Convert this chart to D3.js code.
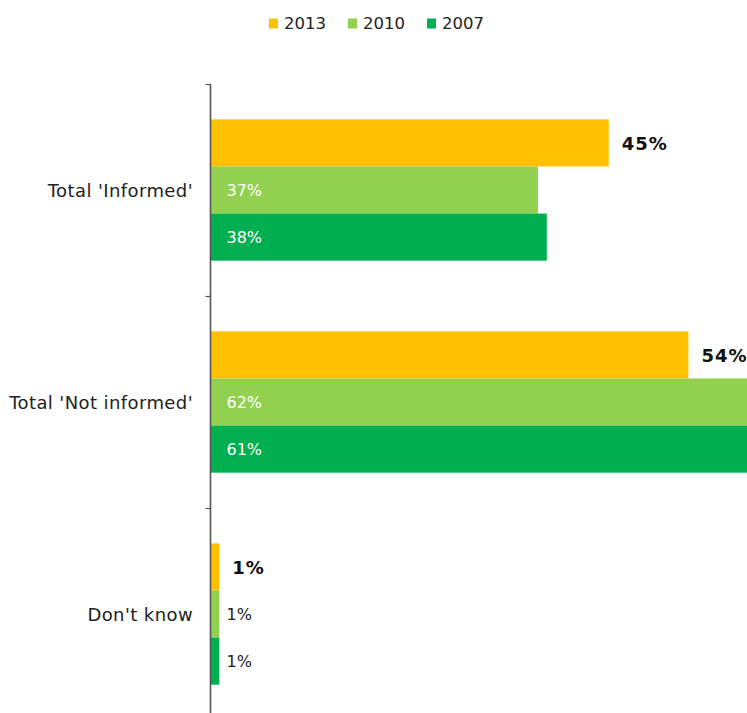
<!DOCTYPE html>
<html>
<head>
<meta charset="utf-8">
<script src="https://cdn.jsdelivr.net/npm/d3@7"></script>
<style>
  html, body { margin: 0; padding: 0; background: #fff; overflow: hidden; }
  svg { display: block; }
  text { font-family: "DejaVu Sans", Verdana, sans-serif; }
</style>
</head>
<body>
<svg id="chart" width="747" height="713"></svg>
<script>
// ---- data ----
const categories = ["Total 'Informed'", "Total 'Not informed'", "Don't know"];
const series = ["2013", "2010", "2007"];
const values2013 = [45, 54, 1];
const values2010 = [37, 62, 1];
const values2007 = [38, 61, 1];
const labels2013 = ["45%", "54%", "1%"];
const labels2010 = ["37%", "62%", "1%"];
const labels2007 = ["38%", "61%", "1%"];
const colors = ["#FFC000", "#92D050", "#00B050"];

const valuesBySeries = [values2013, values2010, values2007];
const labelsBySeries = [labels2013, labels2010, labels2007];

const W = 747, H = 713;
const svg = d3.select("#chart");

const axisX = 210.5;
const x = d3.scaleLinear().domain([0, 100]).range([axisX, axisX + 885]);
const y0 = d3.scaleBand().domain(categories).range([84, 720]).paddingInner(0).paddingOuter(0);
const y1 = d3.scaleBand().domain(series).range([0, y0.bandwidth()]).paddingInner(0).paddingOuter(0.75);
const color = d3.scaleOrdinal().domain(series).range(colors);

// data rows
const rows = [];
categories.forEach((c, ci) => {
  series.forEach((s, si) => {
    rows.push({ cat: c, ser: s, si: si, v: valuesBySeries[si][ci], label: labelsBySeries[si][ci] });
  });
});

// bars
const g = svg.append("g");
g.selectAll("rect.bar").data(rows).enter().append("rect")
  .attr("class", "bar")
  .attr("x", x(0))
  .attr("y", d => y0(d.cat) + y1(d.ser))
  .attr("width", d => x(d.v) - x(0))
  .attr("height", y1.bandwidth())
  .attr("fill", d => color(d.ser));

// value labels
rows.forEach(d => {
  const cy = y0(d.cat) + y1(d.ser) + y1.bandwidth() / 2;
  if (d.si === 0) {
    g.append("text")
      .attr("x", x(d.v) + 13)
      .attr("y", cy + 0.5)
      .attr("dy", "0.36em")
      .attr("font-size", 18)
      .attr("font-weight", "bold")
      .attr("letter-spacing", 1)
      .attr("fill", "#111")
      .text(d.label);
  } else {
    const inside = (x(d.v) - x(0)) > 50;
    g.append("text")
      .attr("x", x(0) + 16)
      .attr("y", cy)
      .attr("dy", "0.36em")
      .attr("font-size", 16)
      .attr("fill", inside ? "#ffffff" : "#222")
      .text(d.label);
  }
});

// axis
const axisG = svg.append("g");
axisG.append("line")
  .attr("x1", axisX).attr("x2", axisX)
  .attr("y1", y0.range()[0]).attr("y2", H)
  .attr("stroke", "#555").attr("stroke-width", 1.6);
axisG.selectAll("line.tick").data(categories).enter().append("line")
  .attr("class", "tick")
  .attr("x1", axisX - 5).attr("x2", axisX)
  .attr("y1", d => y0(d) + 0.5).attr("y2", d => y0(d) + 0.5)
  .attr("stroke", "#555").attr("stroke-width", 1.2);
axisG.selectAll("text.cat").data(categories).enter().append("text")
  .attr("class", "cat")
  .attr("x", 193)
  .attr("y", d => y0(d) + y0.bandwidth() / 2 + 0.5)
  .attr("dy", "0.36em")
  .attr("text-anchor", "end")
  .attr("font-size", 18)
  .attr("letter-spacing", 0.4)
  .attr("fill", "#222")
  .text(d => d);

// legend
const legend = svg.append("g");
let lx = 269;
series.forEach((s, i) => {
  legend.append("rect")
    .attr("x", lx).attr("y", 18.5)
    .attr("width", 9).attr("height", 10)
    .attr("fill", color(s));
  const t = legend.append("text")
    .attr("x", lx + 15).attr("y", 23.5)
    .attr("dy", "0.36em")
    .attr("font-size", 16.5)
    .attr("fill", "#222")
    .text(s);
  lx += 15 + t.node().getComputedTextLength() + 22;
});
</script>
</body>
</html>
